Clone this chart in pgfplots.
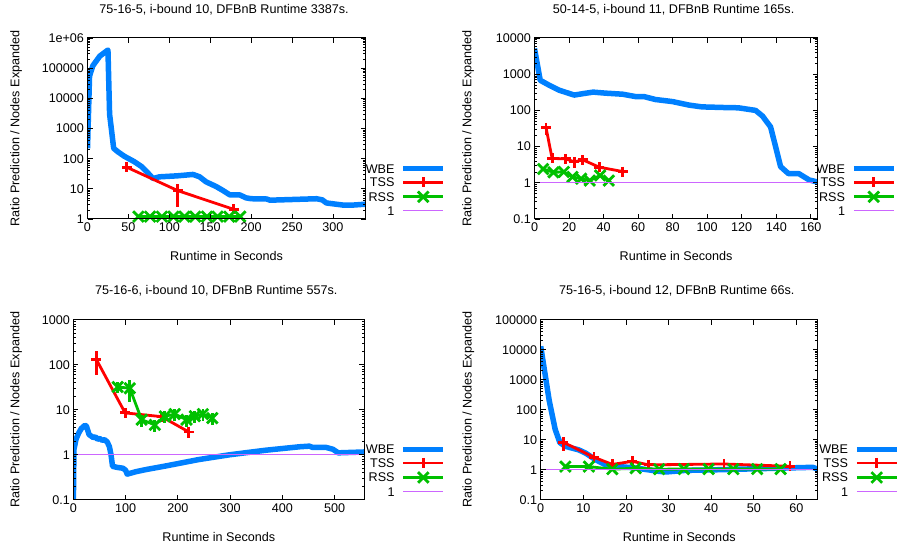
\documentclass[border=0pt]{standalone}
\usepackage{fontspec}
\setmainfont{Liberation Sans}
\usepackage{pgfplots}
\pgfplotsset{compat=1.18}

\definecolor{cwbe}{HTML}{0080FF}
\definecolor{ctss}{HTML}{FF0000}
\definecolor{crss}{HTML}{00C000}
\definecolor{cone}{HTML}{CC66FF}

\pgfplotsset{
  every axis/.append style={
    anchor=south west,
    scale only axis,
    axis on top,
    font=\fontsize{12.6}{15}\selectfont,
    /pgf/number format/assume math mode=true,
    axis line style={line width=1pt},
    major tick style={black, line width=0.8pt},
    minor tick style={black, line width=0.7pt},
    major tick length=5pt, minor tick length=2.5pt,
    tick align=inside,
    clip mode=individual,
    title style={at={(axis description cs:0.5,1)}, anchor=center, yshift=22.5pt, xshift=-2.5pt},
    xlabel style={at={(axis description cs:0.5,0)}, anchor=center, yshift=-37pt},
    xlabel={Runtime in Seconds},
    ylabel={Ratio Prediction / Nodes Expanded},
    legend plot pos=right,
    legend cell align=right,
    legend style={draw=none, fill=none, at={(axis description cs:1,0)}, anchor=south east,
      yshift=3.5pt, row sep=4.2pt, column sep=6pt, inner sep=0pt,
      nodes={inner sep=0pt, text height=9pt, text depth=0pt}},
    legend image code/.code={\draw[mark repeat=2,mark phase=2,#1] plot coordinates {(0pt,0pt) (20pt,0pt) (40pt,0pt)};},
  },
  swbe/.style={color=cwbe, line width=5.5pt, mark=none, line join=round},
  stss/.style={color=ctss, line width=2.8pt, mark=+, mark size=5pt, mark options={solid, line width=2.8pt}},
  srss/.style={color=crss, line width=2.8pt, mark=x, mark size=7.5pt, mark options={solid, line width=2.8pt}},
  sone/.style={color=cone, line width=1.3pt, mark=none},
}

\begin{document}
\begin{tikzpicture}
\useasboundingbox (0,0) rectangle (901pt,546pt);

% top left
\begin{axis}[at={(87.5pt,327pt)}, width=278.2pt, height=181pt, ymode=log,
  legend style={xshift=80.5pt},
  xmin=0, xmax=340, ymin=1, ymax=1e6,
  xtick={0,50,...,300},
  ytick={1,10,100,1000,10000,100000,1000000},
  yticklabels={1,10,100,1000,10000,100000,1e+06},
  title={75-16-5, i-bound 10, DFBnB Runtime 3387s.},
  ylabel style={at={(axis description cs:-0.257,0.5)}, anchor=center}]
\addplot[swbe] coordinates {
 (0,220) (2.5,55000) (6.5,120000) (15,250000) (25,400000) (27,3000) (32,220)
 (37,170) (45,120) (57,80) (66,55) (72,38) (80,22) (88,25) (110,27) (129,30)
 (137,25) (145,17) (157,12) (165,9) (174,6.3) (186,6.3) (194,5) (200,4.7)
 (219,4.6) (223,4.2) (247,4.4) (280,4.7) (287,4.3) (292,3.4) (312,2.9) (325,2.9) (340,3.1)};
\addlegendentry{WBE}
\addplot[stss, error bars/.cd, y dir=both, y explicit, error mark=none,
  error bar style={line width=2.8pt, color=ctss}]
  coordinates {(48,52) +- (0,0) (110.4,8.7) +- (0,6.2) (178.5,2.1) +- (0,0)};
\addlegendentry{TSS}
\addplot[srss] coordinates {(62.2,1.2) (76.5,1.2) (90.9,1.2) (105,1.2) (118.5,1.2)
 (131.6,1.2) (146,1.2) (159,1.2) (173.3,1.2) (186.7,1.2)};
\addlegendentry{RSS}
\addplot[sone, line width=0.9pt] coordinates {(0,1) (340,1)};
\addlegendentry{1}
\end{axis}

% top right
\begin{axis}[at={(534.5pt,327pt)}, width=283.2pt, height=181pt, ymode=log,
  legend style={xshift=79pt},
  xmin=0, xmax=164, ymin=0.1, ymax=10000,
  xtick={0,20,...,160},
  ytick={0.1,1,10,100,1000,10000},
  yticklabels={0.1,1,10,100,1000,10000},
  title={50-14-5, i-bound 11, DFBnB Runtime 165s.},
  ylabel style={at={(axis description cs:-0.234,0.5)}, anchor=center}]
\addplot[swbe] coordinates {
 (0,5100) (3.3,680) (8.7,490) (14.4,360) (23,265) (28,290) (34,320) (41,300)
 (51,280) (58.7,240) (63.5,240) (70,200) (80,175) (89.5,140) (97,125) (110,120)
 (118,118) (128,100) (132,70) (136.7,35) (139.6,10) (142.5,2.8) (147,1.8)
 (153,1.8) (159,1.2) (164,1.05)};
\addlegendentry{WBE}
\addplot[stss, error bars/.cd, y dir=both, y explicit, error mark=none,
  error bar style={line width=2.8pt, color=ctss}]
  coordinates {(6.7,33) +- (0,12) (10.2,4.7) +- (0,0) (18,4.6) +- (0,0)
 (23.1,3.8) +- (0,1.2) (28,4.3) +- (0,0) (37.5,2.7) +- (0,0) (51,2.05) +- (0,0)};
\addlegendentry{TSS}
\addplot[srss] coordinates {(5,2.4) (11,1.95) (17,2.0) (22,1.45) (27,1.3) (32,1.15) (38,1.6) (43,1.15)};
\addlegendentry{RSS}
\addplot[sone] coordinates {(0,1) (164,1)};
\addlegendentry{1}
\end{axis}

% bottom left
\begin{axis}[at={(73.4pt,46.3pt)}, width=290.9pt, height=180pt, ymode=log,
  legend style={xshift=82pt},
  xmin=0, xmax=557, ymin=0.1, ymax=1000,
  xtick={0,100,...,500},
  ytick={0.1,1,10,100,1000},
  yticklabels={0.1,1,10,100,1000},
  title={75-16-6, i-bound 10, DFBnB Runtime 557s.},
  ylabel style={at={(axis description cs:-0.197,0.5)}, anchor=center}]
\addplot[swbe] coordinates {
 (0,0.1) (1,1.3) (5,2.2) (10,3.0) (15,3.8) (22,4.5) (25,4.3) (30,2.8) (34,2.6)
 (38,2.4) (42,2.5) (46,2.2) (50,2.3) (55,2.1) (60,2.15) (65,1.9) (69,1.5) (72,1.0)
 (75,0.55) (85,0.52) (95,0.5) (100,0.45) (103,0.37) (120,0.42) (140,0.47)
 (176,0.56) (240,0.78) (300,1.0) (369,1.26) (433,1.5) (452,1.55) (458,1.45)
 (484,1.45) (497,1.32) (507,1.1) (557,1.15)};
\addlegendentry{WBE}
\addplot[stss, error bars/.cd, y dir=both, y explicit, error mark=none,
  error bar style={line width=2.8pt, color=ctss}]
  coordinates {(44,130) +- (0,70) (99,8.5) +- (0,0) (169,7.0) +- (0,0) (221,3.2) +- (0,0.8)};
\addlegendentry{TSS}
\addplot[srss, error bars/.cd, y dir=both, y explicit, error mark=none,
  error bar style={line width=2.8pt, color=crss}]
  coordinates {(84.7,32) +- (0,9) (108,30) +- (0,15) (130.6,6.0) +- (0,1.8)
 (156,4.6) +- (0,1.4) (175,7.1) +- (0,2.1) (194,8.0) +- (0,2.4) (216.6,6.0) +- (0,1.8)
 (232.5,7.2) +- (0,2.1) (248,8.0) +- (0,2.4) (266,6.5) +- (0,1.9)};
\addlegendentry{RSS}
\addplot[sone] coordinates {(0,1) (557,1)};
\addlegendentry{1}
\end{axis}

% bottom right
\begin{axis}[at={(540.7pt,46.3pt)}, width=277pt, height=180pt, ymode=log,
  legend style={xshift=82pt},
  xmin=0, xmax=65, ymin=0.1, ymax=100000,
  xtick={0,10,...,60},
  ytick={0.1,1,10,100,1000,10000,100000},
  yticklabels={0.1,1,10,100,1000,10000,100000},
  title={75-16-5, i-bound 12, DFBnB Runtime 66s.},
  ylabel style={at={(axis description cs:-0.261,0.5)}, anchor=center}]
\addplot[swbe] coordinates {
 (0,13000) (2,200) (3.4,22) (4.5,8) (5.8,6.0) (8.9,4.6) (10.5,3.6) (12.9,2.15)
 (15.2,1.46) (17.6,1.3) (22,1.15) (27.8,0.88) (29.4,0.84) (34,0.95) (42,1.0)
 (57.6,1.14) (63.8,1.2) (65,1.05)};
\addlegendentry{WBE}
\addplot[stss, error bars/.cd, y dir=both, y explicit, error mark=none,
  error bar style={line width=2.8pt, color=ctss}]
  coordinates {(5.3,8.2) +- (0,4) (12.5,2.6) +- (0,0) (16.8,1.5) +- (0,0)
 (21.5,1.9) +- (0,0) (25.3,1.45) +- (0,0) (43,1.55) +- (0,0) (58.5,1.3) +- (0,0)};
\addlegendentry{TSS}
\addplot[srss] coordinates {(5.8,1.27) (11.3,1.27) (16.8,1.04) (22.3,1.12) (27.8,1.04)
 (33.6,1.05) (39.4,1.05) (45.2,1.05) (50.8,1.05) (56.3,1.05)};
\addlegendentry{RSS}
\addplot[sone] coordinates {(0,1) (65,1)};
\addlegendentry{1}
\end{axis}
\end{tikzpicture}
\end{document}
